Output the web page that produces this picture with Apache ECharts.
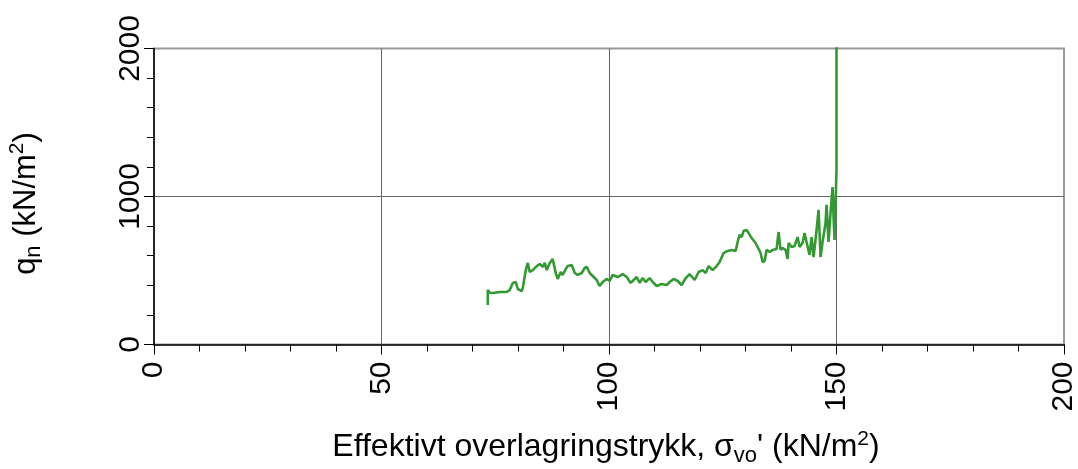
<!DOCTYPE html>
<html>
<head>
<meta charset="utf-8">
<script src="https://cdn.jsdelivr.net/npm/echarts@6/dist/echarts.min.js"></script>
<style>
html,body{margin:0;padding:0;background:#fff;}
#c{width:1078px;height:469px;}
</style>
</head>
<body>
<div id="c"></div>
<script>
// Effective overburden stress (kN/m2)
const sigmaVo = [73.36,73.36,73.80,74.46,75.99,77.53,78.19,78.85,79.51,79.95,80.83,81.05,81.71,82.14,82.58,83.24,84.12,84.78,85.44,85.88,86.32,86.97,87.63,88.29,88.73,89.39,89.83,90.49,90.93,91.81,92.47,93.12,94.00,94.66,95.10,95.76,96.42,97.30,97.95,98.61,99.49,100.15,100.81,101.91,103.01,103.89,104.77,105.21,106.08,106.74,107.40,108.06,108.94,109.60,110.48,111.57,112.67,113.33,114.21,115.09,115.97,116.85,117.72,118.82,119.70,120.58,121.24,121.90,122.78,123.66,124.31,125.19,126.07,126.95,127.83,128.27,128.71,129.15,129.58,130.24,130.68,131.34,131.56,132.22,132.66,133.32,133.76,134.20,134.64,135.30,135.95,136.83,137.27,137.71,138.15,138.81,139.25,139.47,140.13,140.79,141.45,141.88,142.54,142.98,143.42,144.08,144.52,144.96,145.62,146.06,146.50,146.94,147.59,147.81,148.25,148.69,149.13,149.35,149.57,149.79,150.00,150.00];
// Net cone resistance q_n (kN/m2)
const qn = [267,368,350,348,355,355,368,416,422,375,361,382,503,551,490,503,530,544,524,551,503,551,578,483,443,490,470,510,530,537,483,470,483,517,524,483,463,436,395,422,443,429,470,456,476,456,416,429,456,416,449,422,449,422,395,409,402,422,443,429,402,449,476,436,490,503,483,530,503,530,557,618,632,639,632,693,740,726,767,774,753,720,726,686,659,618,557,564,639,625,639,645,760,639,652,639,578,686,659,666,726,659,686,753,693,605,726,591,774,909,591,693,821,943,693,889,1064,862,706,956,1179,2100];
const xTicks = [0,50,100,150,200];
const yTicks = [0,1000,2000];

const FONT = '"Liberation Sans", Arial, sans-serif';
const chart = echarts.init(document.getElementById('c'), null, {renderer:'canvas'});
const pts = sigmaVo.map((x,i)=>[x,qn[i]]);
const richT = {
  t:{fontFamily:FONT,fontSize:32,color:'#000',lineHeight:38},
  sub:{fontFamily:FONT,fontSize:22,color:'#000',verticalAlign:'bottom',lineHeight:20},
  sup:{fontFamily:FONT,fontSize:21,color:'#000',verticalAlign:'top',lineHeight:22}
};
const richY = {
  t:{fontFamily:FONT,fontSize:31,color:'#000',lineHeight:38},
  sub:{fontFamily:FONT,fontSize:22,color:'#000',verticalAlign:'bottom',lineHeight:20},
  sup:{fontFamily:FONT,fontSize:21,color:'#000',verticalAlign:'top',lineHeight:22}
};
chart.setOption({
  animation:false,
  backgroundColor:'#fff',
  grid:{left:154,right:14,top:48.5,bottom:124.5,outerBoundsMode:'none',containLabel:false,show:true,borderColor:'#999',borderWidth:2,backgroundColor:'transparent'},
  xAxis:{
    type:'value',min:xTicks[0],max:xTicks[xTicks.length-1],interval:50,
    name:'{t|Effektivt overlagringstrykk, σ}{sub|vo}{t|\' (kN/m}{sup|2}{t|)}',
    nameLocation:'middle',nameGap:84,
    nameTextStyle:{fontFamily:FONT,color:'#000',padding:[0,6,0,0],rich:richT},
    axisLine:{show:true,onZero:false,lineStyle:{color:'#000',width:1.5}},
    axisTick:{show:true,length:10,lineStyle:{color:'#000',width:1}},
    minorTick:{show:true,splitNumber:5,length:7,lineStyle:{color:'#000',width:1}},
    axisLabel:{rotate:90,margin:17,fontFamily:FONT,fontSize:30,color:'#000',
      formatter:v=>xTicks.includes(v)?String(v):''},
    splitLine:{show:true,showMinLine:false,showMaxLine:false,lineStyle:{color:'#666',width:1}}
  },
  yAxis:{
    type:'value',min:yTicks[0],max:yTicks[yTicks.length-1],interval:1000,
    name:'{t|q}{sub|n}{t| (kN/m}{sup|2}{t|)}',
    nameLocation:'middle',nameGap:109,
    nameTextStyle:{fontFamily:FONT,color:'#000',padding:[0,14,0,0],rich:richY},
    axisLine:{show:true,onZero:false,lineStyle:{color:'#000',width:1.5}},
    axisTick:{show:true,length:10,lineStyle:{color:'#000',width:1}},
    minorTick:{show:true,splitNumber:5,length:7,lineStyle:{color:'#000',width:1}},
    axisLabel:{rotate:90,margin:8,fontFamily:FONT,fontSize:30,color:'#000',
      formatter:v=>yTicks.includes(v)?String(v):''},
    splitLine:{show:true,showMinLine:false,showMaxLine:false,lineStyle:{color:'#666',width:1}}
  },
  series:[{
    type:'line',data:pts,showSymbol:false,symbol:'none',clip:true,
    lineStyle:{color:'#339933',width:2.6},
    itemStyle:{color:'#339933'}
  }]
});
</script>
</body>
</html>
